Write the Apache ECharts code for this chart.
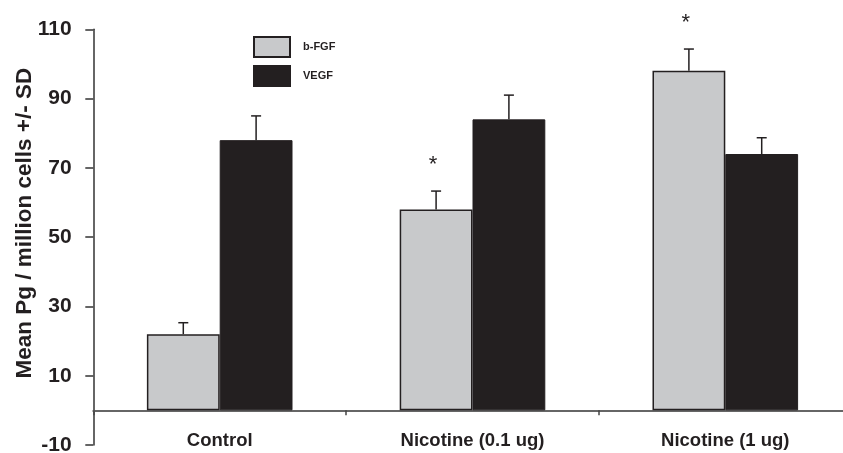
<!DOCTYPE html>
<html>
<head>
<meta charset="utf-8">
<script src="https://cdn.jsdelivr.net/npm/echarts@6/dist/echarts.min.js"></script>
<style>
html,body{margin:0;padding:0;background:#fff;}
#chart{width:843px;height:453px;}
</style>
</head>
<body>
<div id="chart"></div>
<script>
const categories = ['Control', 'Nicotine (0.1 ug)', 'Nicotine (1 ug)'];
const bfgf = [22, 58, 98];
const vegf = [78, 84, 74];
const bfgfSD = [3.3, 5.3, 6.3];
const vegfSD = [7, 7, 4.7];
const bfgfMarks = ['', '*', '*'];
const yTicks = [-10, 10, 30, 50, 70, 90, 110];

const FONT = '"Liberation Sans", Arial, sans-serif';
const BAR_FRAC = 0.288;
const DARK = '#231f20';
const LIGHT = '#c8c9cb';

function errSeries(name, vals, sds, marks, side) {
  return {
    type: 'custom',
    name: name + ' SD',
    clip: false,
    z: 5,
    silent: true,
    data: vals.map((v, i) => [i, v, sds[i]]),
    renderItem: function (params, api) {
      const i = api.value(0);
      const v = api.value(1);
      const sd = api.value(2);
      const mark = marks ? marks[i] : '';
      const band = api.size([1, 0])[0];
      const bw = band * BAR_FRAC;
      const c = api.coord([i, v]);
      const x = c[0] + side * bw / 2;
      const y0 = c[1];
      const y1 = api.coord([i, v + sd])[1];
      const cap = 5;
      const children = [
        { type: 'line', shape: { x1: x, y1: y0, x2: x, y2: y1 }, style: { stroke: DARK, lineWidth: 1.5 } },
        { type: 'line', shape: { x1: x - cap, y1: y1, x2: x + cap, y2: y1 }, style: { stroke: DARK, lineWidth: 1.5 } }
      ];
      if (mark) {
        children.push({
          type: 'text',
          style: { text: mark, x: x - 3, y: y1 - 26, align: 'center', verticalAlign: 'middle', font: '22px ' + FONT, fill: DARK }
        });
      }
      return { type: 'group', children: children };
    }
  };
}

const chart = echarts.init(document.getElementById('chart'), null, { renderer: 'canvas' });
chart.setOption({
  animation: false,
  backgroundColor: '#fff',
  textStyle: { fontFamily: FONT },
  grid: { left: 93.3, top: 29.3, width: 758.4, height: 415.7, containLabel: false, outerBoundsMode: 'none' },
  legend: {
    orient: 'vertical',
    left: 248,
    top: 31,
    itemWidth: 36,
    itemHeight: 20,
    itemGap: 7,
    icon: 'rect',
    data: ['b-FGF', 'VEGF'],
    textStyle: { fontFamily: FONT, fontWeight: 'bold', fontSize: 11, color: DARK, padding: [0, 0, 0, 8] }
  },
  xAxis: {
    type: 'category',
    data: categories,
    axisLine: { onZero: true, lineStyle: { color: '#666', width: 2 } },
    axisTick: { show: true, inside: false, length: 5, lineStyle: { color: '#444', width: 1.5 } },
    axisLabel: { fontFamily: FONT, fontWeight: 'bold', fontSize: 18.5, color: DARK, margin: -14, hideOverlap: false },
    splitLine: { show: false }
  },
  yAxis: {
    type: 'value',
    min: -10,
    max: 110,
    interval: 20,
    name: 'Mean Pg / million cells +/- SD',
    nameLocation: 'middle',
    nameGap: 57,
    nameMoveOverlap: false,
    nameTextStyle: { fontFamily: FONT, fontWeight: 'bold', fontSize: 22.5, color: DARK, padding: [0, 0, 0, 28] },
    axisLine: { show: true, lineStyle: { color: '#333', width: 1.5 } },
    axisTick: { show: true, length: 8, lineStyle: { color: '#333', width: 1.5 } },
    axisLabel: {
      fontFamily: FONT, fontWeight: 'bold', fontSize: 21, color: DARK, margin: 21.6,
      formatter: function (v) { return yTicks.indexOf(v) >= 0 ? String(v) : ''; }
    },
    splitLine: { show: false }
  },
  series: [
    {
      name: 'b-FGF', type: 'bar', data: bfgf, barWidth: (BAR_FRAC * 100) + '%', barGap: '0%',
      itemStyle: { color: LIGHT, borderColor: DARK, borderWidth: 1.5 }, z: 2
    },
    {
      name: 'VEGF', type: 'bar', data: vegf, barWidth: (BAR_FRAC * 100) + '%', barGap: '0%',
      itemStyle: { color: DARK, borderColor: DARK, borderWidth: 1 }, z: 2
    },
    errSeries('b-FGF', bfgf, bfgfSD, bfgfMarks, -1),
    errSeries('VEGF', vegf, vegfSD, null, 1)
  ]
});
</script>
</body>
</html>
